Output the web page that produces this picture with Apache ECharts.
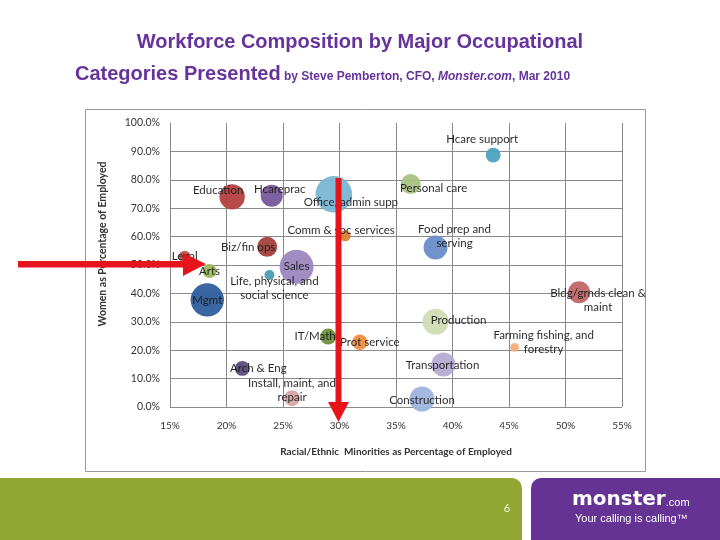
<!DOCTYPE html>
<html>
<head>
<meta charset="utf-8">
<script src="https://cdn.jsdelivr.net/npm/echarts@6/dist/echarts.min.js"></script>
<style>
  html, body { margin: 0; padding: 0; background: #fff; }
  #chart { width: 720px; height: 540px; }
</style>
</head>
<body>
<div id="chart"></div>
<script>
// occupation groups, as labelled in the picture
const occupations = [
  'Education', 'Hcareprac', 'Biz/fin ops', 'Legal', 'Arts', 'Mgmt',
  'Life, physical, and\nsocial science', 'Sales', 'Office, admin supp',
  'Comm & soc services', 'Personal care', 'Food prep and\nserving',
  'Hcare support', 'IT/Math', 'Prot service', 'Production', 'Transportation',
  'Construction', 'Install, maint, and\nrepair', 'Arch & Eng',
  'Bldg/grnds clean &\nmaint', 'Farming fishing, and\nforestry'
];
// racial/ethnic minorities, % of employed
const minorityPct = [20.5, 24.0, 23.6, 16.3, 18.5, 18.3, 23.8, 26.2, 29.5, 30.5, 36.3,
  38.5, 43.6, 29.0, 31.8, 38.5, 39.2, 37.3, 25.8, 21.4, 51.2, 45.5];
// women, % of employed
const womenPct = [74.0, 74.4, 56.4, 52.9, 47.9, 37.7, 46.5, 49.4, 74.9, 60.3, 78.5,
  56.2, 88.7, 24.8, 22.8, 30.0, 15.0, 2.8, 3.1, 13.6, 40.4, 21.0];
// employed (millions)
const employed = [8.7, 6.5, 5.4, 1.9, 2.6, 15.0, 1.35, 15.5, 18.0, 1.7, 5.4,
  7.75, 3.0, 3.4, 3.2, 9.1, 7.75, 8.4, 3.4, 3.0, 6.5, 1.0];

const xTicks = [15, 20, 25, 30, 35, 40, 45, 50, 55];
const yTicks = [0, 10, 20, 30, 40, 50, 60, 70, 80, 90, 100];

// styling
const colors = ['#b4403f', '#76589c', '#a3413d', '#c0504d', '#9bbb59', '#2f5e9c',
  '#4a9bb5', '#9d87bf', '#7ab6d3', '#d9843c', '#a8c484', '#6a8cc8',
  '#4ba3c3', '#70913c', '#ef8e44', '#cfdcb4', '#b4abd1', '#9db4dc',
  '#d8a5a5', '#5d4a7c', '#c06667', '#f5ad78'];
const labelOffsets = [[-14, -7], [8, -6], [-19, 0], [0, 0], [0, 0], [0, 0],
  [5, 13], [0, 0], [17, 8], [-4, -5], [23, 4], [19, -11],
  [-11, -16], [-13, 0], [10, 0], [23, -2], [-1, 1],
  [0, 1], [0, -8], [16, 0], [19, 8], [29, -5]];

const chart = echarts.init(document.getElementById('chart'));

const points = occupations.map((name, i) => ({
  name: name,
  value: [minorityPct[i], womenPct[i], employed[i]],
  itemStyle: { color: colors[i] }
}));

const font = 'Lato, "Open Sans", sans-serif';
const red = '#e8141c';

chart.setOption({
  animation: false,
  grid: { left: 170, right: 98, top: 123, bottom: 133 },
  xAxis: {
    type: 'value', min: 15, max: 55, interval: 5,
    name: 'Racial/Ethnic  Minorities as Percentage of Employed',
    nameLocation: 'middle', nameGap: 40,
    nameTextStyle: { fontFamily: font, fontSize: 10, fontWeight: 'bold', color: '#333' },
    axisLine: { show: false },
    axisTick: { show: false },
    axisLabel: { fontFamily: font, fontSize: 10, color: '#333', margin: 14,
      formatter: v => xTicks.includes(v) ? v + '%' : '' },
    splitLine: { show: true, lineStyle: { color: '#8a8a8a', width: 1 } }
  },
  yAxis: {
    type: 'value', min: 0, max: 100, interval: 10,
    axisLine: { show: true, lineStyle: { color: '#8a8a8a' } },
    axisTick: { show: false },
    axisLabel: { fontFamily: font, fontSize: 10.5, color: '#333', margin: 10,
      formatter: v => yTicks.includes(v) ? v.toFixed(1) + '%' : '' },
    splitLine: { show: true, showMaxLine: false, lineStyle: { color: '#8a8a8a', width: 1 } }
  },
  series: [{
    type: 'scatter',
    data: points,
    symbolSize: v => 8.62 * Math.sqrt(v[2]),
    itemStyle: { opacity: 0.95 },
    label: {
      show: true, position: 'inside',
      formatter: p => p.name,
      fontFamily: font, fontSize: 11.5, color: '#1c1c1c',
      align: 'center', lineHeight: 14
    },
    labelLayout: p => ({
      dx: labelOffsets[p.dataIndex][0],
      dy: labelOffsets[p.dataIndex][1],
      hideOverlap: false
    })
  }],
  graphic: [
    // chart frame
    { type: 'rect', shape: { x: 85.5, y: 109.5, width: 560, height: 362 },
      style: { fill: null, stroke: '#9a9a9a', lineWidth: 1 }, z: -1 },
    // title
    { type: 'text', x: 360, y: 42,
      style: { text: 'Workforce Composition by Major Occupational', fill: '#66339a',
        font: 'bold 20px "Liberation Sans", Arial, sans-serif', align: 'center', verticalAlign: 'middle' } },
    { type: 'text', x: 75, y: 74,
      style: {
        text: '{a|Categories Presented} {b|by Steve Pemberton, CFO, }{c|Monster.com}{b|, Mar 2010}',
        fill: '#66339a', align: 'left', verticalAlign: 'middle',
        rich: {
          a: { font: 'bold 20px "Liberation Sans", Arial, sans-serif', fill: '#66339a' },
          b: { font: 'bold 12px "Liberation Sans", Arial, sans-serif', fill: '#66339a', padding: [6, 0, 0, 0] },
          c: { font: 'italic bold 12px "Liberation Sans", Arial, sans-serif', fill: '#66339a', padding: [6, 0, 0, 0] }
        }
      } },
    // y axis name
    { type: 'text', x: 103, y: 244, rotation: Math.PI / 2,
      style: { text: 'Women as Percentage of Employed', fill: '#333',
        font: 'bold 10.5px Lato, sans-serif', align: 'center', verticalAlign: 'middle' } },
    // footer
    { type: 'rect', shape: { x: 0, y: 478, width: 522, height: 62, r: [0, 10, 0, 0] },
      style: { fill: '#92a734' } },
    { type: 'rect', shape: { x: 531, y: 478, width: 189, height: 62, r: [10, 0, 0, 0] },
      style: { fill: '#653393' } },
    { type: 'text', x: 507, y: 508,
      style: { text: '6', fill: '#f4f4e8', font: '11px Lato, sans-serif', align: 'center', verticalAlign: 'middle' } },
    { type: 'text', x: 572, y: 500,
      style: { text: '{m|monster}{c|.com}', align: 'left', verticalAlign: 'middle',
        rich: {
          m: { font: 'bold 20px "DejaVu Sans", sans-serif', fill: '#fff' },
          c: { font: '11px "Liberation Sans", sans-serif', fill: '#fff', padding: [5, 0, 0, 0] }
        } } },
    { type: 'text', x: 575, y: 519,
      style: { text: 'Your calling is calling\u2122', fill: '#fff',
        font: '11px "Liberation Sans Narrow", "Liberation Sans", sans-serif', align: 'left', verticalAlign: 'middle' } },
    // red annotation arrows
    { type: 'rect', shape: { x: 18, y: 261, width: 168, height: 6.5 }, style: { fill: red }, z: 100 },
    { type: 'polygon', shape: { points: [[183, 253], [206, 264], [183, 276]] }, style: { fill: red }, z: 100 },
    { type: 'rect', shape: { x: 335.5, y: 178, width: 6, height: 226 }, style: { fill: red }, z: 100 },
    { type: 'polygon', shape: { points: [[328, 402], [349, 402], [338.5, 422]] }, style: { fill: red }, z: 100 }
  ]
});
</script>
</body>
</html>
